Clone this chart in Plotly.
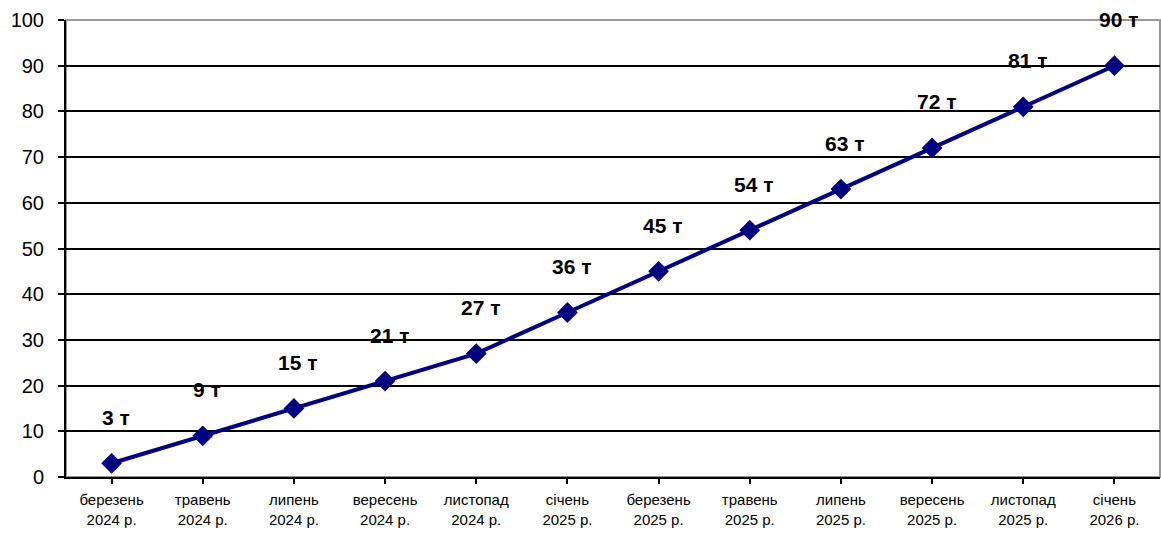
import plotly.graph_objects as go

months = ["березень", "травень", "липень", "вересень", "листопад", "січень",
          "березень", "травень", "липень", "вересень", "листопад", "січень"]
years = ["2024 р.", "2024 р.", "2024 р.", "2024 р.", "2024 р.", "2025 р.",
         "2025 р.", "2025 р.", "2025 р.", "2025 р.", "2025 р.", "2026 р."]
values = [3, 9, 15, 21, 27, 36, 45, 54, 63, 72, 81, 90]
labels = [f"{v} т" for v in values]

idx = list(range(len(values)))
ticktext = [f"{m}<br>{y}" for m, y in zip(months, years)]

fig = go.Figure()
fig.add_trace(go.Scatter(
    x=idx, y=values, mode="lines+markers",
    line=dict(color="#000080", width=4),
    marker=dict(symbol="diamond", size=16, color="#000080"),
    showlegend=False, cliponaxis=False,
))
for i, v, t in zip(idx, values, labels):
    fig.add_annotation(x=i, y=v, text=f"<b>{t}</b>", showarrow=False,
                       yshift=46, xshift=4,
                       font=dict(family="Liberation Sans, Arial", size=21, color="black"))

fig.update_layout(
    width=1161, height=533,
    margin=dict(l=66, r=1, t=20, b=56),
    paper_bgcolor="white", plot_bgcolor="white",
    font=dict(family="Liberation Sans, Arial", color="black"),
)
fig.update_xaxes(
    range=[-0.5, 11.5], tickmode="array", tickvals=idx, ticktext=ticktext,
    tickfont=dict(size=15), showgrid=False,
    showline=True, linecolor="black", linewidth=2,
    ticks="outside", ticklen=5, tickwidth=2, tickcolor="black",
    tickson="boundaries", mirror=False, zeroline=False,
    ticklabelstandoff=3,
)
fig.update_yaxes(
    range=[0, 100], dtick=10, tickfont=dict(size=20),
    showgrid=True, gridcolor="black", gridwidth=2,
    showline=True, linecolor="black", linewidth=2,
    ticks="outside", ticklen=6, tickwidth=2, tickcolor="black",
    zeroline=False, ticklabelstandoff=10,
)
# gray plot-area border (top and right)
fig.add_shape(type="rect", xref="paper", yref="paper", x0=0, x1=1, y0=0, y1=1,
              line=dict(color="#999999", width=2), layer="below")

fig.write_html("out.html")
